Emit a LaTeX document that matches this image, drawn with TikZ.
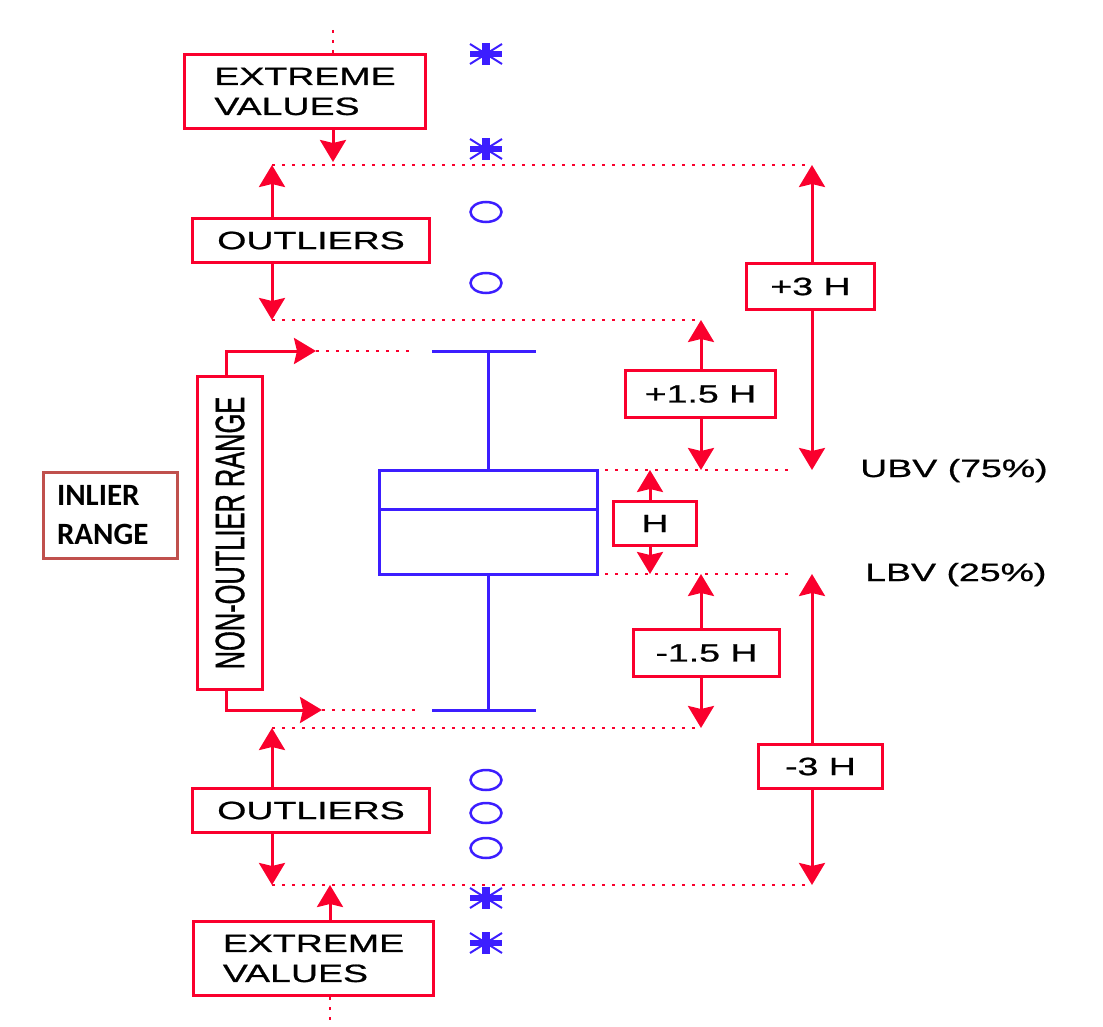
\documentclass[tikz,border=0pt]{standalone}
\usepackage{fontspec}
\setmainfont{Liberation Sans}
\newfontfamily\boxfont[FakeStretch=1.5,FakeBold=0.8]{Liberation Sans}
\newfontfamily\narrowfont[FakeStretch=0.62,FakeBold=0.8]{Liberation Sans}
\newfontfamily\calfont{Carlito}
\usetikzlibrary{arrows.meta,shapes.geometric}
\definecolor{rd}{RGB}{250,0,45}
\definecolor{bl}{RGB}{60,30,255}
\definecolor{brn}{RGB}{192,80,77}
\begin{document}
\begin{tikzpicture}[x=1pt,y=-1pt,
  rbox/.style={draw=rd, line width=3pt, fill=white, inner sep=0pt, align=left,
    font=\boxfont\fontsize{25}{30}\selectfont},
  rarr/.style={draw=rd, line width=3pt, -{Stealth[width=26pt,length=22pt,inset=3pt]}},
  rdot/.style={draw=rd, line width=2.5pt, dash pattern=on 3pt off 7pt},
  bline/.style={draw=bl, line width=3pt},
  omark/.style={ellipse, draw=bl, line width=2.5pt, minimum width=31pt, minimum height=20pt, inner sep=0pt},
  astmark/.pic={
    \draw[bl,line width=6pt] (-16,0)--(16,0);
    \draw[bl,line width=8pt] (0,-11)--(0,11);
    \draw[bl,line width=2pt] (-16,-10)--(16,10) (-16,10)--(16,-10);},
  lbl/.style={inner sep=0pt, anchor=base west, font=\boxfont\fontsize{25}{30}\selectfont}
]
\useasboundingbox (0,0) rectangle (1103,1027);

% coordinates of level lines
\coordinate (ta) at (333,30);
\coordinate (tb) at (333,165);
\coordinate (L1l) at (272,165); \coordinate (L1r) at (812,165);
\coordinate (L2l) at (272,320); \coordinate (L2r) at (701,320);
\coordinate (Ul) at (605,470);  \coordinate (Ur) at (790,470);
\coordinate (Ll) at (605,574);  \coordinate (Lr) at (790,574);
\coordinate (L3l) at (272,728); \coordinate (L3r) at (701,728);
\coordinate (L4l) at (272,885); \coordinate (L4r) at (812,885);
\coordinate (eb) at (330,885);
\coordinate (bb) at (330,1027);
\coordinate (U3) at (812,470); \coordinate (U15) at (701,470);
\coordinate (Uh) at (650,470); \coordinate (Lh) at (650,574);
\coordinate (L15) at (701,574); \coordinate (L3m) at (812,574);
\coordinate (ntc) at (226,351); \coordinate (nt) at (316,351); \coordinate (ntd) at (410,351);
\coordinate (nbc) at (226,710); \coordinate (nb) at (322,710); \coordinate (nbd) at (415,710);

% dotted level lines
\draw[rdot] (L1l) -- (L1r);
\draw[rdot] (L2l) -- (L2r);
\draw[rdot] (Ul) -- (Ur);
\draw[rdot] (Ll) -- (Lr);
\draw[rdot] (L3l) -- (L3r);
\draw[rdot] (L4l) -- (L4r);
\draw[rdot] (nt) -- (ntd);
\draw[rdot] (nb) -- (nbd);

% box plot
\draw[bline] (432,351) -- (536,351);
\draw[bline] (488,351) -- (488,470);
\draw[bline] (379,470) rectangle (597,574);
\draw[bline] (379,509) -- (597,509);
\draw[bline] (488,574) -- (488,710);
\draw[bline] (432,710) -- (536,710);

% boxes
\node[rbox, minimum width=241pt, minimum height=74pt] (ext1) at (305,91.5) {EXTREME\\VALUES};
\node[rbox, minimum width=237pt, minimum height=44pt] (out1) at (311,240.5) {OUTLIERS};
\node[rbox, minimum width=237pt, minimum height=44pt] (out2) at (311,810.5) {OUTLIERS};
\node[rbox, minimum width=240pt, minimum height=74pt] (ext2) at (313.5,958.5) {EXTREME\\VALUES};
\node[rbox, minimum width=128pt, minimum height=46pt] (p3) at (810.5,286.5) {+3 H};
\node[rbox, minimum width=150pt, minimum height=47pt] (p15) at (700.5,394) {+1.5 H};
\node[rbox, minimum width=83pt, minimum height=44pt] (hh) at (655,523.5) {H};
\node[rbox, minimum width=146pt, minimum height=47pt] (m15) at (706.5,653) {-1.5 H};
\node[rbox, minimum width=124pt, minimum height=44pt] (m3) at (820.5,766.5) {-3 H};
\node[rbox, minimum width=65pt, minimum height=313pt] (nor) at (230,533)
  {\rotatebox{90}{\narrowfont\fontsize{41}{41}\selectfont NON-OUTLIER RANGE}};

% connectors
\draw[rdot] (ta) -- (ext1.north -| ta);
\draw[rarr, shorten >=3pt] (ext1.south -| tb) -- (tb);
\draw[rarr] (out1.north -| L1l) -- (L1l);
\draw[rarr] (out1.south -| L2l) -- (L2l);
\draw[rarr] (p3.north -| L1r) -- (L1r);
\draw[rarr] (p3.south -| U3) -- (U3);
\draw[rarr] (p15.north -| L2r) -- (L2r);
\draw[rarr] (p15.south -| U15) -- (U15);
\draw[rarr] (hh.north -| Uh) -- (Uh);
\draw[rarr] (hh.south -| Lh) -- (Lh);
\draw[rarr] (m15.north -| L15) -- (L15);
\draw[rarr] (m15.south -| L3r) -- (L3r);
\draw[rarr] (m3.north -| L3m) -- (L3m);
\draw[rarr] (m3.south -| L4r) -- (L4r);
\draw[rarr] (out2.north -| L3l) -- (L3l);
\draw[rarr] (out2.south -| L4l) -- (L4l);
\draw[rarr] (ext2.north -| eb) -- (eb);
\draw[rdot] (ext2.south -| bb) -- (bb);
\draw[rarr] (nor.north -| ntc) |- (nt);
\draw[rarr] (nor.south -| nbc) |- (nb);

% markers
\pic (a1) at (486,54) {astmark};
\pic (a2) at (486,149) {astmark};
\node[omark] (o1) at (486,212) {};
\node[omark] (o2) at (486,283) {};
\node[omark] (o3) at (486,780) {};
\node[omark] (o4) at (486,813) {};
\node[omark] (o5) at (486,848) {};
\pic (a3) at (486,898) {astmark};
\pic (a4) at (486,943) {astmark};

% labels
\node[lbl] (ubv) at (860,477) {UBV (75\%)};
\node[lbl] (lbv) at (865,581) {LBV (25\%)};

% inlier range
\node[draw=brn, line width=3pt, minimum width=134pt, minimum height=86pt, text width=107pt, inner sep=0pt, align=left,
  font=\calfont\bfseries\fontsize{31}{39}\selectfont] (inl) at (110.5,515.5) {INLIER\\RANGE};
\end{tikzpicture}
\end{document}
